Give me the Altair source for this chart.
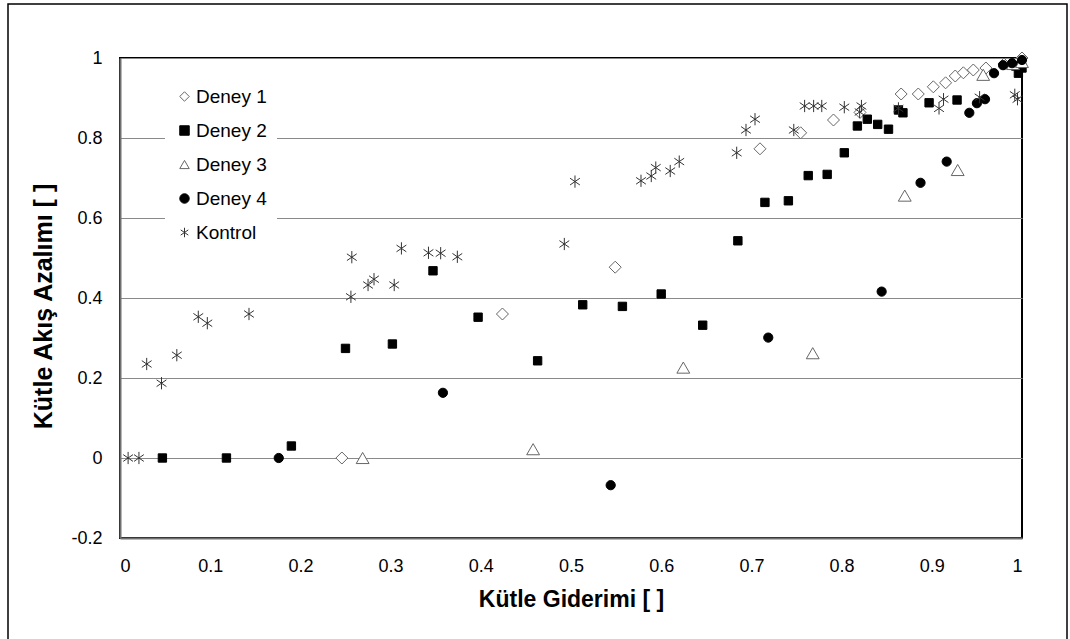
import altair as alt
import pandas as pd

series = ["Deney 1", "Deney 2", "Deney 3", "Deney 4", "Kontrol"]

d1_x = [0.246, 0.424, 0.549, 0.7095, 0.7546, 0.791, 0.8204, 0.866, 0.885, 0.9017, 0.9153, 0.926, 0.935, 0.946, 0.96, 0.98, 1.0]
d1_y = [0.0, 0.36, 0.477, 0.773, 0.813, 0.845, 0.864, 0.91, 0.91, 0.928, 0.938, 0.955, 0.963, 0.97, 0.975, 0.985, 1.0]

d2_x = [0.047, 0.118, 0.19, 0.25, 0.302, 0.347, 0.397, 0.463, 0.513, 0.557, 0.6, 0.646, 0.685, 0.715, 0.741, 0.763, 0.784, 0.803, 0.8175, 0.8285, 0.84, 0.852, 0.863, 0.868, 0.897, 0.928, 0.993, 0.996, 1.0]
d2_y = [0.0, 0.0, 0.03, 0.274, 0.285, 0.468, 0.352, 0.243, 0.383, 0.379, 0.41, 0.332, 0.543, 0.639, 0.643, 0.706, 0.709, 0.763, 0.83, 0.847, 0.834, 0.822, 0.87, 0.863, 0.888, 0.895, 0.98, 0.962, 0.975]

d3_x = [0.269, 0.458, 0.6245, 0.768, 0.870, 0.9287, 0.957, 0.99, 1.0]
d3_y = [0.0, 0.022, 0.226, 0.262, 0.656, 0.72, 0.958, 0.985, 0.99]

d4_x = [0.176, 0.358, 0.544, 0.7187, 0.8444, 0.8875, 0.9165, 0.9416, 0.95, 0.959, 0.969, 0.979, 0.989, 1.0]
d4_y = [0.0, 0.163, -0.068, 0.301, 0.416, 0.688, 0.741, 0.863, 0.887, 0.897, 0.962, 0.982, 0.987, 0.995]

k_x = [0.009, 0.021, 0.0296, 0.046, 0.063, 0.0868, 0.0968, 0.143, 0.256, 0.257, 0.275, 0.2816, 0.304, 0.312, 0.342, 0.3555, 0.374, 0.4926, 0.5044, 0.5776, 0.589, 0.594, 0.61, 0.62, 0.6837, 0.694, 0.704, 0.747, 0.759, 0.769, 0.778, 0.803, 0.822, 0.82, 0.863, 0.908, 0.913, 0.953, 0.992, 0.995]
k_y = [0.0, 0.0, 0.235, 0.187, 0.257, 0.353, 0.337, 0.36, 0.403, 0.502, 0.4325, 0.447, 0.4325, 0.524, 0.513, 0.512, 0.503, 0.535, 0.691, 0.693, 0.705, 0.726, 0.7175, 0.741, 0.763, 0.82, 0.847, 0.82, 0.88, 0.88, 0.88, 0.877, 0.88, 0.865, 0.874, 0.874, 0.897, 0.902, 0.908, 0.897]

x_ticks = [0, 0.1, 0.2, 0.3, 0.4, 0.5, 0.6, 0.7, 0.8, 0.9, 1]
y_ticks = [-0.2, 0, 0.2, 0.4, 0.6, 0.8, 1]

star = "M0,-1L0,1M-0.8,-0.55L0.8,0.55M-0.8,0.55L0.8,-0.55"
shapes = ["diamond", "square", "triangle-up", "circle", star]
fills = ["white", "black", "white", "black", "transparent"]
strokes = ["#666666", "black", "#666666", "black", "#333333"]
sizes = [144, 70, 165, 85, 150]

rows = []
for i, (name, xs, ys) in enumerate(zip(series, [d1_x, d2_x, d3_x, d4_x, k_x], [d1_y, d2_y, d3_y, d4_y, k_y])):
    for xv, yv in zip(xs, ys):
        rows.append({"seri": name, "x": xv, "y": yv, "sz": sizes[i], "ord": i})
df = pd.DataFrame(rows)

font = "Liberation Sans"
label_expr = "datum.value < 0 ? '-' + format(-datum.value, '~g') : format(datum.value, '~g')"

frame = alt.Chart(alt.Data(values=[{}])).mark_rect(
    fill="transparent", stroke="black", strokeWidth=1.5
).encode(
    x=alt.value(-112), x2=alt.value(947), y=alt.value(-54), y2=alt.value(600)
)

leg = alt.Legend(
    title=None, orient="none", legendX=45, legendY=19,
    fillColor="white", padding=10, labelFont=font, labelFontSize=19,
    labelColor="black", rowPadding=14, symbolSize=90, symbolStrokeWidth=1,
    labelOffset=2
)

points = alt.Chart(df).mark_point(opacity=1, strokeWidth=1).encode(
    x=alt.X("x:Q", scale=alt.Scale(domain=[0, 1], nice=False, zero=False),
            axis=alt.Axis(values=x_ticks, labelExpr=label_expr, ticks=False, grid=False,
                          domainColor="#707070", domainWidth=2,
                          labelFont=font, labelFontSize=18, labelColor="black", labelPadding=19,
                          title="Kütle Giderimi  [ ]", titleFont=font, titleFontSize=23,
                          titleFontWeight="bold", titleColor="black", titlePadding=13)),
    y=alt.Y("y:Q", scale=alt.Scale(domain=[-0.2, 1], nice=False, zero=False),
            axis=alt.Axis(values=y_ticks, labelExpr=label_expr, ticks=False, grid=True,
                          gridColor="#8a8a8a", gridWidth=1,
                          domainColor="#707070", domainWidth=2,
                          labelFont=font, labelFontSize=18, labelColor="black", labelPadding=18,
                          title="Kütle Akış Azalımı  [ ]", titleFont=font, titleFontSize=25,
                          titleFontWeight="bold", titleColor="black",
                          titleAngle=270, titleX=-64, titleY=248)),
    shape=alt.Shape("seri:N", scale=alt.Scale(domain=series, range=shapes), legend=leg),
    fill=alt.Fill("seri:N", scale=alt.Scale(domain=series, range=fills), legend=leg),
    stroke=alt.Stroke("seri:N", scale=alt.Scale(domain=series, range=strokes), legend=leg),
    size=alt.Size("sz:Q", scale=None),
    order=alt.Order("ord:Q"),
)

chart = alt.layer(frame, points).properties(
    width=902, height=480,
    padding={"left": 120, "top": 58, "right": 48, "bottom": 101},
    autosize=alt.AutoSizeParams(type="none"),
    background="white",
).configure_view(stroke="black", strokeWidth=2)

chart.save("out.html", embed_options={"renderer": "svg", "actions": False})
